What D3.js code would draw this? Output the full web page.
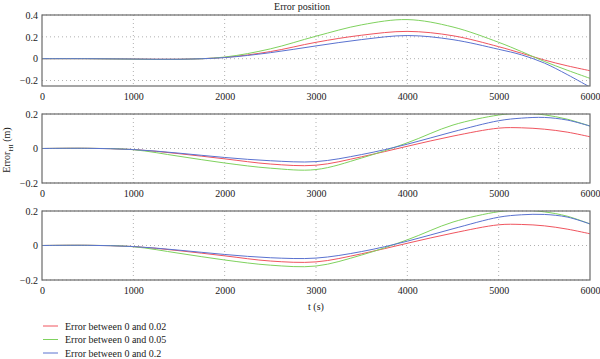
<!DOCTYPE html>
<html><head><meta charset="utf-8">
<script src="https://cdn.jsdelivr.net/npm/d3@7"></script>
<style>body{margin:0;background:#fff}svg{display:block}text{font-family:"Liberation Serif","Times New Roman",serif;fill:#222}</style>
</head><body><svg id="c" width="600" height="359"></svg>
<script>
const times = [0,500,1000,1500,2000,2500,3000,3500,4000,4500,5000,5250,5500,5750,6000];
const xTicks = [0,1000,2000,3000,4000,5000,6000];
const seriesNames = ["Error between 0 and 0.02","Error between 0 and 0.05","Error between 0 and 0.2"];
const colors = ["#f0555f","#7fd25e","#5a72d0"];
// Panel 1
const p1Red   = [0,0,-0.003,-0.005,0.012,0.065,0.15,0.215,0.25,0.21,0.11,0.05,-0.012,-0.065,-0.11];
const p1Green = [0,0,-0.004,-0.006,0.015,0.09,0.206,0.31,0.358,0.29,0.15,0.065,-0.025,-0.105,-0.18];
const p1Blue  = [0,0,-0.003,-0.005,0.01,0.055,0.117,0.175,0.212,0.174,0.086,0.035,-0.04,-0.145,-0.26];
// Panel 2
const p2Red   = [0,0.001,-0.006,-0.03,-0.06,-0.09,-0.097,-0.048,0.013,0.072,0.118,0.12,0.112,0.095,0.068];
const p2Green = [0,0.001,-0.007,-0.045,-0.084,-0.114,-0.122,-0.055,0.033,0.136,0.194,0.205,0.195,0.17,0.13];
const p2Blue  = [0,0.001,-0.006,-0.027,-0.052,-0.071,-0.076,-0.035,0.025,0.097,0.161,0.176,0.18,0.165,0.13];
// Panel 3
const p3Red   = [0,0.001,-0.006,-0.03,-0.06,-0.09,-0.095,-0.048,0.013,0.072,0.12,0.122,0.114,0.095,0.068];
const p3Green = [0,0.001,-0.007,-0.045,-0.084,-0.114,-0.119,-0.055,0.033,0.136,0.196,0.205,0.195,0.17,0.125];
const p3Blue  = [0,0.001,-0.006,-0.027,-0.052,-0.071,-0.073,-0.035,0.025,0.097,0.164,0.178,0.18,0.165,0.125];

const panels = [
  {top:15, bottom:86, domain:[-0.25,0.4], ticks:[-0.2,0,0.2,0.4], data:[p1Red,p1Green,p1Blue]},
  {top:114, bottom:183, domain:[-0.2,0.2], ticks:[-0.2,0,0.2], data:[p2Red,p2Green,p2Blue]},
  {top:211, bottom:280, domain:[-0.2,0.2], ticks:[-0.2,0,0.2], data:[p3Red,p3Green,p3Blue]}
];
const svg = d3.select("#c");
const left = 42, right = 590;
const x = d3.scaleLinear().domain([0,6000]).range([left,right]);
const fmt = v => v===0 ? "0" : (v<0 ? "\u2212"+d3.format(".1f")(-v) : d3.format(".1f")(v));

panels.forEach((p,i) => {
  const y = d3.scaleLinear().domain(p.domain).range([p.bottom,p.top]);
  const g = svg.append("g");
  g.append("clipPath").attr("id","clip"+i).append("rect")
    .attr("x",left).attr("y",p.top).attr("width",right-left).attr("height",p.bottom-p.top);
  // grid
  g.selectAll(".gx").data(xTicks.slice(1,-1)).join("line")
    .attr("x1",d=>x(d)).attr("x2",d=>x(d)).attr("y1",p.top).attr("y2",p.bottom)
    .attr("stroke","#b0b0b0").attr("stroke-width",1).attr("stroke-dasharray","1,3");
  g.selectAll(".gy").data(p.ticks).join("line")
    .attr("x1",left).attr("x2",right).attr("y1",d=>y(d)).attr("y2",d=>y(d))
    .attr("stroke","#b0b0b0").attr("stroke-width",1).attr("stroke-dasharray","1,3");
  // lines
  const line = d3.line().x((d,j)=>x(times[j])).y(d=>y(d)).curve(d3.curveCatmullRom.alpha(0.5));
  p.data.forEach((arr,k) => {
    g.append("path").datum(arr).attr("d",line).attr("fill","none")
      .attr("stroke",colors[k]).attr("stroke-width",1).attr("clip-path","url(#clip"+i+")");
  });
  // frame
  g.append("rect").attr("x",left).attr("y",p.top).attr("width",right-left).attr("height",p.bottom-p.top)
    .attr("fill","none").attr("stroke","#6a6a6a").attr("stroke-width",1.2);
  // axes
  const xa = d3.axisBottom(x).tickValues(xTicks).tickSize(0).tickPadding(7).tickFormat(d3.format("d"));
  const ax = g.append("g").attr("transform",`translate(0,${p.bottom})`).call(xa);
  ax.select(".domain").remove();
  ax.selectAll("text").attr("font-size",10).attr("font-family","Liberation Serif").attr("fill","#222");
  const ya = d3.axisLeft(y).tickValues(p.ticks).tickSize(0).tickPadding(4).tickFormat(fmt);
  const ay = g.append("g").attr("transform",`translate(${left},0)`).call(ya);
  ay.select(".domain").remove();
  ay.selectAll("text").attr("font-size",10).attr("font-family","Liberation Serif").attr("fill","#222");
});

svg.append("text").attr("x",302).attr("y",9.5).attr("text-anchor","middle").attr("font-size",10).text("Error position");
svg.append("text").attr("x",316).attr("y",310).attr("text-anchor","middle").attr("font-size",10).text("t (s)");
const yl = svg.append("text").attr("transform","translate(10,150) rotate(-90)").attr("text-anchor","middle").attr("font-size",10);
yl.append("tspan").text("Error");
yl.append("tspan").attr("font-size",7).attr("dy",3).text("HI");
yl.append("tspan").attr("dy",-3).text(" (m)");

const lg = svg.append("g");
seriesNames.forEach((n,k) => {
  const yy = 326 + k*13.5;
  lg.append("line").attr("x1",43).attr("x2",58).attr("y1",yy).attr("y2",yy).attr("stroke",colors[k]).attr("stroke-width",1);
  lg.append("text").attr("x",65).attr("y",yy+3.5).attr("font-size",10).text(n);
});
</script></body></html>
